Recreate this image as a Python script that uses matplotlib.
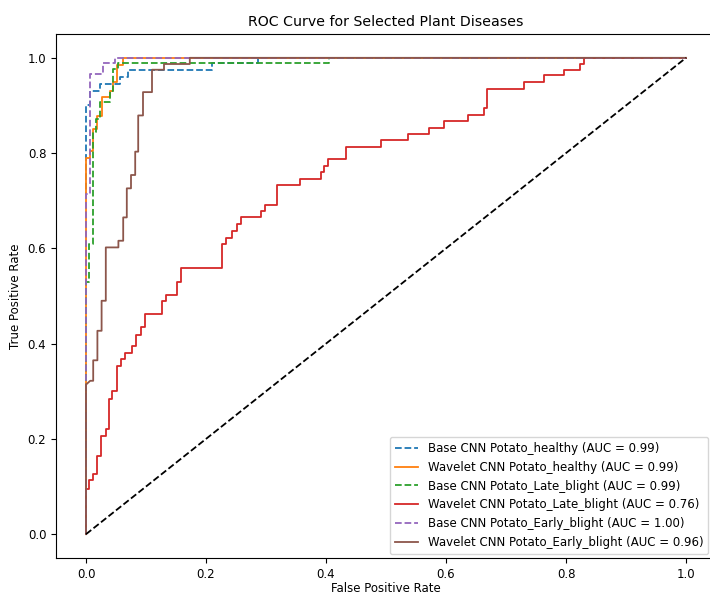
import matplotlib.pyplot as plt
import numpy as np

# ROC points (fpr, tpr)
fpr_base_healthy = [0, 0, 0.007, 0.007, 0.023, 0.023, 0.057, 0.057, 0.07, 0.07, 0.21, 0.21, 0.287, 0.287, 1.0]
tpr_base_healthy = [0, 0.90, 0.90, 0.93, 0.93, 0.945, 0.945, 0.96, 0.96, 0.975, 0.975, 0.99, 0.99, 1.0, 1.0]

fpr_wav_healthy = [0, 0, 0.007, 0.007, 0.012, 0.012, 0.018, 0.018, 0.027, 0.027, 0.04, 0.04, 0.045,
                   0.045, 0.052, 0.052, 0.062, 0.062, 1.0]
tpr_wav_healthy = [0, 0.79, 0.79, 0.805, 0.805, 0.85, 0.85, 0.877, 0.877, 0.918, 0.918, 0.93, 0.93,
                   0.95, 0.95, 0.985, 0.985, 1.0, 1.0]

fpr_base_late = [0, 0, 0.005, 0.005, 0.012, 0.012, 0.016, 0.016, 0.024, 0.024, 0.04, 0.04, 0.045,
                 0.045, 0.053, 0.053, 0.405, 0.405, 1.0]
tpr_base_late = [0, 0.53, 0.53, 0.61, 0.61, 0.845, 0.845, 0.872, 0.872, 0.907, 0.907, 0.93, 0.93,
                 0.977, 0.977, 0.99, 0.99, 1.0, 1.0]

fpr_wav_late = [0, 0, 0.005, 0.005, 0.012, 0.012, 0.019, 0.019, 0.025, 0.025, 0.033, 0.033, 0.039,
                0.039, 0.044, 0.044, 0.051, 0.051, 0.058, 0.058, 0.065, 0.065, 0.077, 0.077, 0.084,
                0.084, 0.092, 0.092, 0.098, 0.098, 0.126, 0.126, 0.133, 0.133, 0.151, 0.151, 0.158,
                0.158, 0.226, 0.226, 0.233, 0.233, 0.244, 0.244, 0.251, 0.251, 0.258, 0.258, 0.292,
                0.292, 0.298, 0.298, 0.318, 0.318, 0.357, 0.357, 0.391, 0.391, 0.397, 0.397, 0.404,
                0.404, 0.433, 0.433, 0.491, 0.491, 0.537, 0.537, 0.572, 0.572, 0.597, 0.597, 0.636,
                0.636, 0.664, 0.664, 0.669, 0.669, 0.73, 0.73, 0.763, 0.763, 0.797, 0.797, 0.823,
                0.823, 0.83, 0.83, 1.0]
tpr_wav_late = [0, 0.095, 0.095, 0.113, 0.113, 0.126, 0.126, 0.165, 0.165, 0.207, 0.207, 0.22, 0.22,
                0.283, 0.283, 0.30, 0.30, 0.353, 0.353, 0.367, 0.367, 0.381, 0.381, 0.395, 0.395,
                0.419, 0.419, 0.434, 0.434, 0.462, 0.462, 0.489, 0.489, 0.503, 0.503, 0.529, 0.529,
                0.559, 0.559, 0.609, 0.609, 0.622, 0.622, 0.637, 0.637, 0.651, 0.651, 0.665, 0.665,
                0.678, 0.678, 0.691, 0.691, 0.733, 0.733, 0.745, 0.745, 0.76, 0.76, 0.773, 0.773,
                0.787, 0.787, 0.813, 0.813, 0.827, 0.827, 0.84, 0.84, 0.853, 0.853, 0.867, 0.867,
                0.881, 0.881, 0.894, 0.894, 0.934, 0.934, 0.949, 0.949, 0.963, 0.963, 0.975, 0.975,
                0.987, 0.987, 1.0, 1.0]

fpr_base_early = [0, 0, 0.007, 0.007, 0.028, 0.028, 0.048, 0.048, 1.0]
tpr_base_early = [0, 0.715, 0.715, 0.967, 0.967, 0.99, 0.99, 1.0, 1.0]

fpr_wav_early = [0, 0, 0.007, 0.012, 0.012, 0.019, 0.019, 0.026, 0.026, 0.033, 0.033, 0.054, 0.054,
                 0.062, 0.062, 0.068, 0.068, 0.075, 0.075, 0.082, 0.082, 0.087, 0.087, 0.095, 0.095,
                 0.11, 0.11, 0.13, 0.13, 0.173, 0.173, 1.0]
tpr_wav_early = [0, 0.314, 0.322, 0.322, 0.365, 0.365, 0.427, 0.427, 0.49, 0.49, 0.602, 0.602, 0.616,
                 0.616, 0.665, 0.665, 0.726, 0.726, 0.754, 0.754, 0.803, 0.803, 0.879, 0.879, 0.928,
                 0.928, 0.975, 0.975, 0.987, 0.987, 1.0, 1.0]

labels = ['Base CNN Potato_healthy (AUC = 0.99)',
          'Wavelet CNN Potato_healthy (AUC = 0.99)',
          'Base CNN Potato_Late_blight (AUC = 0.99)',
          'Wavelet CNN Potato_Late_blight (AUC = 0.76)',
          'Base CNN Potato_Early_blight (AUC = 1.00)',
          'Wavelet CNN Potato_Early_blight (AUC = 0.96)']

plt.rcParams['font.size'] = 8.5

fig = plt.figure(figsize=(7.1, 5.96), dpi=100)
# the reference is a cropped screenshot: right spine sits just outside the picture
ax = fig.add_axes([56 / 710, 38 / 596, 672 / 710, 524 / 596])

lw = 1.3
ax.plot(fpr_base_healthy, tpr_base_healthy, '--', color='C0', lw=lw, label=labels[0])
ax.plot(fpr_wav_healthy, tpr_wav_healthy, '-', color='C1', lw=lw, label=labels[1])
ax.plot(fpr_base_late, tpr_base_late, '--', color='C2', lw=lw, label=labels[2])
ax.plot(fpr_wav_late, tpr_wav_late, '-', color='C3', lw=lw, label=labels[3])
ax.plot(fpr_base_early, tpr_base_early, '--', color='C4', lw=lw, label=labels[4])
ax.plot(fpr_wav_early, tpr_wav_early, '-', color='C5', lw=lw, label=labels[5])
ax.plot([0, 1], [0, 1], 'k--', lw=lw)
ax.set_xlim(-0.05, 1.07)

ax.set_xlabel('False Positive Rate', labelpad=1)
ax.xaxis.set_label_coords(0.491, -0.045)
ax.set_ylabel('True Positive Rate')
ax.set_title('ROC Curve for Selected Plant Diseases', x=0.491)
ax.legend(loc='lower right', bbox_to_anchor=(708 / 710, 42 / 596),
          bbox_transform=fig.transFigure, borderaxespad=0)

fig.savefig('out.png', dpi=100)
